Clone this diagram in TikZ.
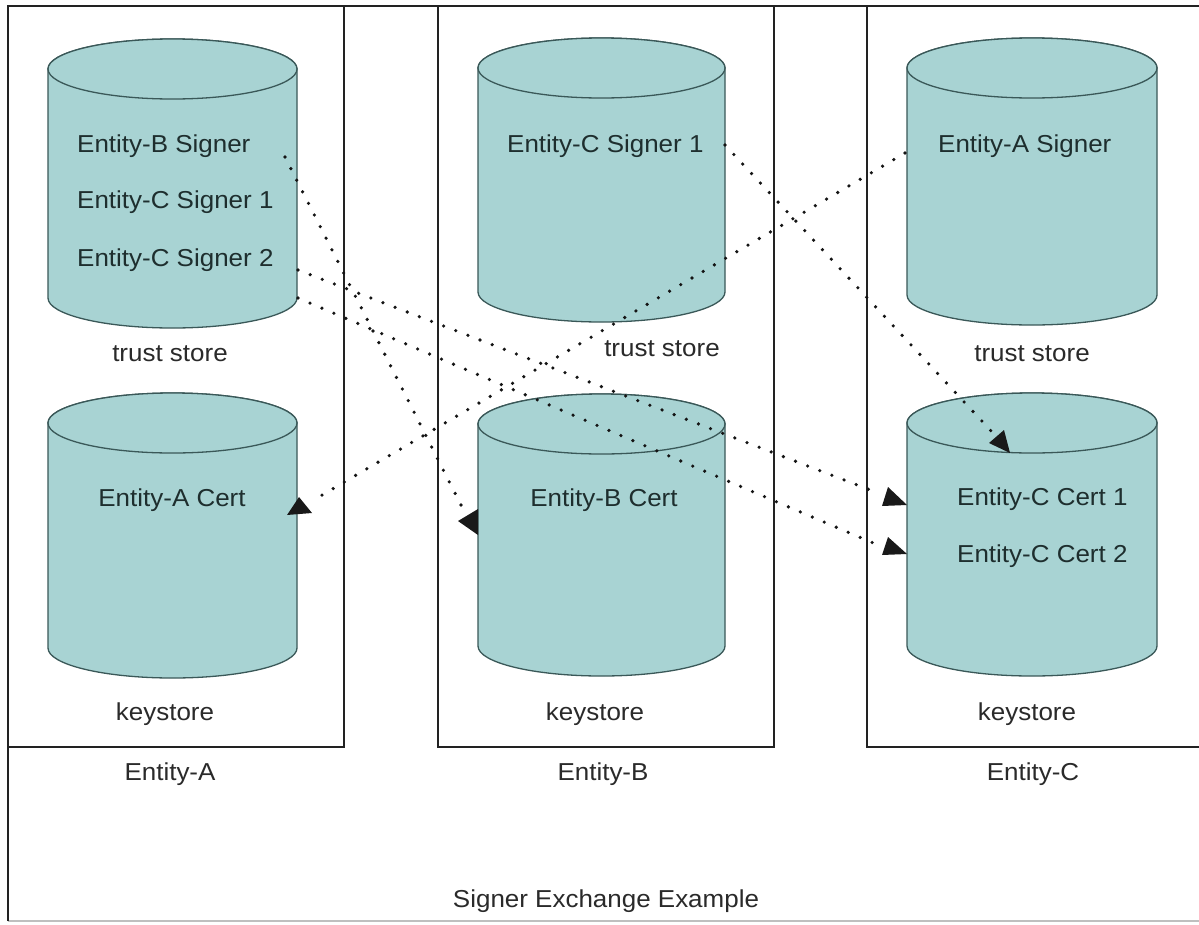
\documentclass[tikz,border=0pt]{standalone}
\usepackage{fontspec}
\setmainfont{Liberation Sans}[FakeStretch=1.06]
\usetikzlibrary{calc}
\definecolor{cylfill}{RGB}{168,211,211}
\definecolor{cylline}{RGB}{58,88,88}
\definecolor{frameline}{RGB}{34,34,34}
\definecolor{intext}{RGB}{30,46,46}
\definecolor{labtext}{RGB}{42,42,42}
\newcommand\dbcylinder[5]{%
  \path[cylbody] (#1,#3) -- (#1,#4)
     arc[start angle=180,end angle=0,x radius={(#2-#1)/2},y radius=30]
     -- (#2,#3)
     arc[start angle=0,end angle=-180,x radius={(#2-#1)/2},y radius=30] -- cycle;
  \path[cylbody] ({(#1+#2)/2},#3) ellipse[x radius={(#2-#1)/2},y radius=30];
  \coordinate (#5) at ({(#1+#2)/2},{(#3+#4)/2});
}
\begin{document}
\begin{tikzpicture}[x=1pt,y=1pt,yscale=-1,
  cylbody/.style={fill=cylfill,draw=cylline,line width=1.3pt},
  framebox/.style={draw=frameline,line width=2.8pt},
  intxt/.style={text=intext,inner sep=0pt,font=\fontsize{24.5}{29}\selectfont},
  labtxt/.style={text=labtext,inner sep=0pt,font=\fontsize{24.5}{29}\selectfont},
  dotline/.style={draw=black!92,line width=3.6pt,line cap=round,dash pattern=on 0pt off 13pt},
  tiphead/.style={fill=black!90}]
\useasboundingbox (0,0) rectangle (1199,924);
\fill[white] (0,0) rectangle (1199,924);
\clip (0,0) rectangle (1199,924);

% outer frame
\draw[draw=black!25,line width=1.5pt] (8,921) -- (1205,921);
\draw[framebox] (8,921) -- (8,6) -- (1210,6);

% entity boxes
\draw[framebox] (8,6) rectangle (344,747);
\draw[framebox] (438,6) rectangle (774,747);
\draw[framebox] (867,6) rectangle (1215,747);

% cylinders
\dbcylinder{48}{297}{69}{298}{trustA}
\dbcylinder{48}{297}{423}{648}{keyA}
\dbcylinder{478}{725}{68}{292}{trustB}
\dbcylinder{478}{725}{424}{646}{keyB}
\dbcylinder{907}{1157}{68}{295}{trustC}
\dbcylinder{907}{1157}{423}{646}{keyC}

% texts inside cylinders
\node[intxt,anchor=base west] (aSigB) at (77,152) {Entity-B Signer};
\node[intxt,anchor=base west] (aSigC1) at (77,208) {Entity-C Signer 1};
\node[intxt,anchor=base west] (aSigC2) at (77,266) {Entity-C Signer 2};
\node[intxt,anchor=base west] (bSigC1) at (507,152) {Entity-C Signer 1};
\node[intxt,anchor=base west] (cSigA) at (938,152) {Entity-A Signer};
\node[intxt,anchor=base] (aCert) at (172,506) {Entity-A Cert};
\node[intxt,anchor=base] (bCert) at (604,506) {Entity-B Cert};
\node[intxt,anchor=base west] (cCert1) at (957,505) {Entity-C Cert 1};
\node[intxt,anchor=base west] (cCert2) at (957,562) {Entity-C Cert 2};

% labels
\node[labtxt,anchor=base] (tsA) at (170,361) {trust store};
\node[labtxt,anchor=base] (tsB) at (662,356) {trust store};
\node[labtxt,anchor=base] (tsC) at (1032,361) {trust store};
\node[labtxt,anchor=base] (ksA) at (165,720) {keystore};
\node[labtxt,anchor=base] (ksB) at (595,720) {keystore};
\node[labtxt,anchor=base] (ksC) at (1027,720) {keystore};
\node[labtxt,anchor=base] (entA) at (170,780) {Entity-A};
\node[labtxt,anchor=base] (entB) at (603,780) {Entity-B};
\node[labtxt,anchor=base] (entC) at (1033,780) {Entity-C};
\node[labtxt,anchor=base] (title) at (606,907) {Signer Exchange Example};

% connector end points
\coordinate (s1) at (285,157); \coordinate (e1) at (462,507);
\coordinate (s2) at (298,270); \coordinate (e2) at (878,493);
\coordinate (s3) at (298,298); \coordinate (e3) at (878,545);
\coordinate (s4) at (905,153); \coordinate (e4) at (312,501);
\coordinate (s5) at (725,145); \coordinate (e5) at (993,433);

% dotted connectors
\draw[dotline] (s1) -- (e1);
\draw[dotline] (s2) -- (e2);
\draw[dotline] (s3) -- (e3);
\draw[dotline] (s4) -- (e4);
\draw[dotline] (s5) -- (e5);

% arrow heads
\fill[tiphead] (458,521) -- (478,509) -- (478,535) -- cycle;
\fill[tiphead] (907,505) -- (888,487) -- (882,506) -- cycle;
\fill[tiphead] (907,554) -- (888,537) -- (882,555) -- cycle;
\fill[tiphead] (299,497) -- (287,515) -- (312,513) -- cycle;
\fill[tiphead] (1010,453) -- (989,443) -- (1004,430) -- cycle;
\end{tikzpicture}
\end{document}
